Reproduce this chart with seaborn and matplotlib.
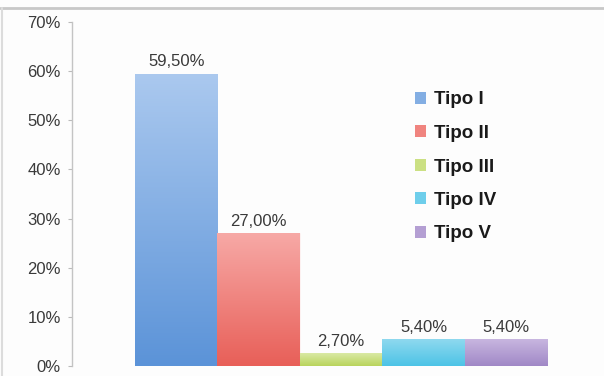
import matplotlib
matplotlib.use("Agg")
import matplotlib.pyplot as plt
import matplotlib.colors as mcolors
from matplotlib.lines import Line2D
import numpy as np
import pandas as pd
import seaborn as sns

categories = ["Tipo I", "Tipo II", "Tipo III", "Tipo IV", "Tipo V"]
values = [59.5, 27.0, 2.7, 5.4, 5.4]
value_labels = ["59,50%", "27,00%", "2,70%", "5,40%", "5,40%"]
yticks = [0, 10, 20, 30, 40, 50, 60, 70]
ytick_labels = ["0%", "10%", "20%", "30%", "40%", "50%", "60%", "70%"]

# (bottom colour, top colour) for each bar's gradient
bottom_colors = ["#5b93d8", "#e85f58", "#b9d45c", "#4cc3e6", "#a088c6"]
top_colors = ["#abc9ef", "#f7a9a6", "#dcebaa", "#8fd9ef", "#c8b6e0"]

sns.set_theme(style="white")
plt.rcParams["font.family"] = ["Liberation Sans", "DejaVu Sans"]

df = pd.DataFrame({"tipo": categories, "valor": values})

fig = plt.figure(figsize=(6.04, 3.76), dpi=100)
fig.patch.set_facecolor("#fdfdfd")
ax = fig.add_axes([72 / 604, 10 / 376, 1 - 72 / 604, 344 / 376])
ax.set_facecolor("none")

sns.barplot(data=df, x="tipo", y="valor", hue="tipo", palette=bottom_colors,
            width=1.0, dodge=False, legend=True, ax=ax, saturation=1)

# gradient fill clipped to each bar
for patch, c0, c1 in zip(ax.patches, bottom_colors, top_colors):
    x, y = patch.get_x(), patch.get_y()
    w, h = patch.get_width(), patch.get_height()
    cmap = mcolors.LinearSegmentedColormap.from_list("g", [c0, c1])
    grad = np.linspace(0, 1, 256).reshape(-1, 1)
    im = ax.imshow(grad, cmap=cmap, aspect="auto", origin="lower",
                   extent=[x, x + w, y, y + h], zorder=patch.get_zorder() + 0.1)
    im.set_clip_path(patch)
    patch.set_edgecolor("#ffffff")
    patch.set_linewidth(0.6)

ax.set_xlim(-1.265, 5.19)
ax.set_ylim(0, 70)

for cont, lab in zip(ax.containers, value_labels):
    ax.bar_label(cont, labels=[lab], padding=3, fontsize=12,
                 color="#3a3a3a", zorder=5)

ax.set_yticks(yticks)
ax.set_yticklabels(ytick_labels, fontsize=12, color="#3a3a3a")
ax.set_xticks([])
ax.set_xlabel("")
ax.set_ylabel("")
ax.tick_params(axis="y", which="both", left=True, length=3, width=0.8,
               color="#bbbbbb", pad=5)

for s in ["top", "right", "bottom"]:
    ax.spines[s].set_visible(False)
ax.spines["left"].set_color("#c4c4c4")
ax.spines["left"].set_linewidth(1.0)

leg = ax.legend(frameon=False, loc="upper left",
                bbox_to_anchor=(407 / 604, 1 - 84 / 376), bbox_transform=fig.transFigure,
                prop={"weight": "bold", "size": 13.5},
                handlelength=0.6, handleheight=0.6, handletextpad=0.45,
                labelspacing=0.88, borderaxespad=0)
for txt in leg.get_texts():
    txt.set_color("#1a1a1a")
for h, c0, c1 in zip(leg.legend_handles, bottom_colors, top_colors):
    mid = np.mean([mcolors.to_rgb(c0), mcolors.to_rgb(c1)], axis=0)
    h.set_facecolor(mid)
    h.set_edgecolor("none")

# figure frame (top and left)
fig.add_artist(Line2D([0, 1], [1 - 8 / 376, 1 - 8 / 376], transform=fig.transFigure,
                      color="#c8c8c8", linewidth=2))
fig.add_artist(Line2D([2 / 604, 2 / 604], [0, 1 - 8 / 376], transform=fig.transFigure,
                      color="#dcdcdc", linewidth=1.5))

fig.savefig("out.png", dpi=100, facecolor=fig.get_facecolor())
